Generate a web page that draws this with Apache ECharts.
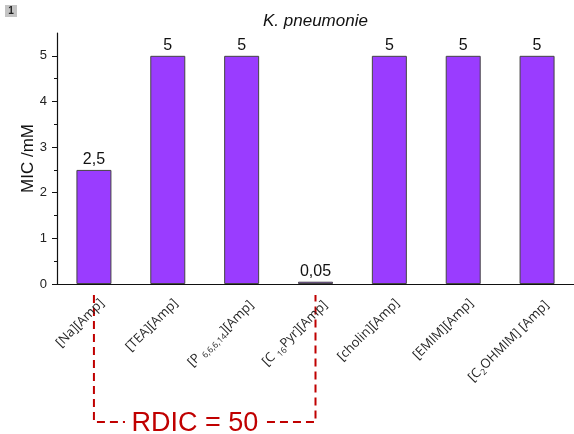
<!DOCTYPE html>
<html>
<head>
<meta charset="utf-8">
<script src="https://cdn.jsdelivr.net/npm/echarts@6/dist/echarts.min.js"></script>
<style>html,body{margin:0;padding:0;background:#fff;}#c{width:574px;height:434px;}</style>
</head>
<body>
<div id="c"></div>
<script>
const categories = ["[Na][Amp]", "[TEA][Amp]", "[P 6,6,6,14][Amp]", "[C 16Pyr][Amp]", "[cholin][Amp]", "[EMIM][Amp]", "[C2OHMIM] [Amp]"];
const categoryLabels = ["[Na][Amp]", "[TEA][Amp]", "[P {sub|6,6,6,14}][Amp]", "[C {sub|16}Pyr][Amp]", "[cholin][Amp]", "[EMIM][Amp]", "[C{sub|2}OHMIM] [Amp]"];
const micValues = [2.5, 5, 5, 0.05, 5, 5, 5];
const valueLabels = ["2,5", "5", "5", "0,05", "5", "5", "5"];
const yTicks = [0, 1, 2, 3, 4, 5];
const titleText = "K. pneumonie";
const yName = "MIC /mM";
const annotationText = "RDIC = 50";
const annotationFrom = 0, annotationTo = 3;

const chart = echarts.init(document.getElementById('c'), null, {renderer: 'canvas'});
const FONT = 'Liberation Sans, Arial, sans-serif';
const LFONT = 'Open Sans, sans-serif';
const option = {
  animation: false,
  backgroundColor: '#fff',
  title: {
    text: titleText, left: 258, top: 8,
    textStyle: {fontFamily: FONT, fontStyle: 'italic', fontWeight: 'normal', fontSize: 17, color: '#111'}
  },
  grid: {left: 57, right: 0, top: 33, bottom: 150, containLabel: false},
  xAxis: [{
    type: 'category', data: categories, position: 'bottom',
    axisLine: {lineStyle: {color: '#111', width: 1.2}},
    axisTick: {alignWithLabel: true, length: 6, lineStyle: {color: '#111'}},
    axisLabel: {
      rotate: 45, interval: 0, margin: 9, fontFamily: LFONT, fontSize: 13, color: '#262626',
      verticalAlign: 'top', padding: [5, 0, 0, 0],
      formatter: (v, i) => categoryLabels[i],
      rich: {sub: {fontSize: 8.5, fontFamily: LFONT, color: '#262626', verticalAlign: 'bottom', padding: [9, 0, 0, 0]}}
    }
  }, {
    type: 'category', data: categories, position: 'bottom',
    axisLine: {show: false},
    axisTick: {length: 3, lineStyle: {color: '#111'}},
    axisLabel: {show: false}
  }],
  yAxis: {
    type: 'value', min: 0, max: 5.5, interval: 1,
    name: yName, nameLocation: 'middle', nameGap: 20, nameMoveOverlap: false,
    nameTextStyle: {fontFamily: FONT, fontSize: 17, color: '#111'},
    axisLine: {show: true, lineStyle: {color: '#111', width: 1.2}},
    axisTick: {show: true, length: 5, lineStyle: {color: '#111'}, customValues: yTicks},
    minorTick: {show: true, splitNumber: 2, length: 3, lineStyle: {color: '#111'}},
    splitLine: {show: false},
    axisLabel: {fontFamily: FONT, fontSize: 13, color: '#222', margin: 10, customValues: yTicks}
  },
  series: [{
    type: 'bar', xAxisIndex: 0, data: micValues, barWidth: 35,
    itemStyle: {color: '#9a3cff', borderColor: '#444', borderWidth: 1},
    label: {
      show: true, position: 'top', distance: 2, fontFamily: FONT, fontSize: 16, color: '#111',
      formatter: p => valueLabels[p.dataIndex]
    }
  }]
};
chart.setOption(option);

const x1 = chart.convertToPixel({xAxisIndex: 0}, categories[annotationFrom]);
const x2 = chart.convertToPixel({xAxisIndex: 0}, categories[annotationTo]);
const yTop = 295, yBot = 422;
const tx = x1 + (x2 - x1) * 0.456;
const red = '#c00000';
const dash = {stroke: red, lineWidth: 2, lineDash: [8, 5]};
chart.setOption({
  graphic: [
    {type: 'rect', left: 5, top: 5, shape: {width: 12, height: 12}, style: {fill: '#c4c4c4'}},
    {type: 'text', x: 11, y: 11.5, style: {text: '1', fill: '#222', fontSize: 10, fontWeight: 'bold', fontFamily: FONT, align: 'center', verticalAlign: 'middle'}},
    {type: 'polyline', shape: {points: [[x1, yTop], [x1, yBot], [tx - 70, yBot]]}, style: Object.assign({fill: null}, dash)},
    {type: 'polyline', shape: {points: [[tx + 72, yBot], [x2, yBot], [x2, yTop]]}, style: Object.assign({fill: null}, dash)},
    {type: 'text', x: tx, y: yBot + 2, style: {text: annotationText, fill: red, fontSize: 27, fontFamily: FONT, align: 'center', verticalAlign: 'middle'}}
  ]
});
</script>
</body>
</html>
